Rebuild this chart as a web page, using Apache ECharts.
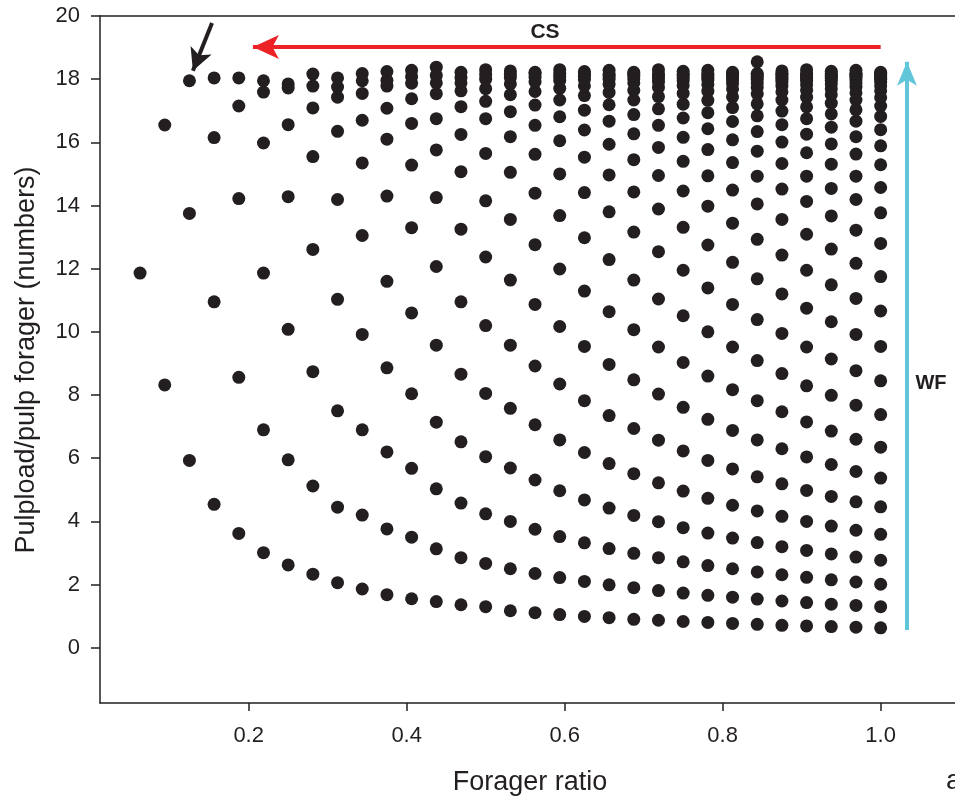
<!DOCTYPE html>
<html>
<head>
<meta charset="utf-8">
<script src="https://cdn.jsdelivr.net/npm/echarts@6/dist/echarts.min.js"></script>
<style>
html,body{margin:0;padding:0;background:#fff;}
#chart{width:955px;height:798px;}
</style>
</head>
<body>
<div id="chart"></div>
<script>
// Forager ratio of each column (x positions)
const foragerRatio = [0.0625,0.09375,0.125,0.15625,0.1875,0.21875,0.25,0.28125,0.3125,0.34375,0.375,0.40625,0.4375,0.46875,0.5,0.53125,0.5625,0.59375,0.625,0.65625,0.6875,0.71875,0.75,0.78125,0.8125,0.84375,0.875,0.90625,0.9375,0.96875,1.0];

// Pulpload per pulp forager, one array per column (bottom to top)
const load02 = [11.86];
const load03 = [8.32,16.55];
const load04 = [5.93,13.75,17.95];
const load05 = [4.54,10.95,16.15,18.04];
const load06 = [3.62,8.56,14.22,17.15,18.04];
const load07 = [3.01,6.90,11.86,15.98,17.59,17.95];
const load08 = [2.62,5.95,10.08,14.28,16.56,17.72,17.85];
const load09 = [2.33,5.12,8.74,12.61,15.55,17.09,17.78,18.16];
const load10 = [2.06,4.45,7.5,11.03,14.19,16.35,17.43,17.75,18.04];
const load11 = [1.86,4.2,6.9,9.92,13.05,15.35,16.7,17.55,17.95,18.18];
const load12 = [1.68,3.76,6.2,8.86,11.6,14.3,16.1,17.08,17.78,17.96,18.24];
const load13 = [1.55,3.5,5.68,8.04,10.6,13.3,15.28,16.6,17.38,17.87,18.08,18.28];
const load14 = [1.46,3.13,5.03,7.14,9.58,12.07,14.25,15.76,16.75,17.54,17.88,18.12,18.38];
const load15 = [1.36,2.85,4.58,6.52,8.66,10.95,13.25,15.07,16.25,17.13,17.63,17.88,18.05,18.22];
const load16 = [1.3,2.67,4.24,6.05,8.05,10.2,12.37,14.15,15.65,16.75,17.3,17.7,18.0,18.15,18.3];
const load17 = [1.17,2.50,4.0,5.69,7.58,9.58,11.64,13.56,15.05,16.18,16.97,17.51,17.85,18.05,18.15,18.26];
const load18 = [1.11,2.35,3.75,5.31,7.06,8.92,10.87,12.76,14.39,15.62,16.54,17.18,17.61,17.91,18.06,18.16,18.22];
const load19 = [1.05,2.22,3.52,4.97,6.58,8.35,10.17,11.99,13.68,15.0,16.05,16.81,17.34,17.71,17.96,18.08,18.16,18.3];
const load20 = [0.99,2.10,3.32,4.68,6.18,7.82,9.54,11.29,12.98,14.41,15.53,16.39,17.02,17.48,17.79,17.99,18.09,18.16,18.24];
const load21 = [0.95,1.99,3.14,4.42,5.83,7.35,8.97,10.64,12.29,13.8,14.97,15.94,16.67,17.19,17.58,17.84,18.0,18.1,18.17,18.28];
const load22 = [0.90,1.90,2.99,4.19,5.51,6.94,8.48,10.07,11.64,13.16,14.43,15.45,16.27,16.88,17.34,17.65,17.88,18.01,18.1,18.17,18.22];
const load23 = [0.87,1.81,2.85,3.99,5.22,6.57,8.03,9.52,11.04,12.54,13.89,14.95,15.84,16.54,17.06,17.45,17.74,17.91,18.02,18.11,18.17,18.3];
const load24 = [0.83,1.73,2.72,3.80,4.96,6.23,7.61,9.03,10.51,11.95,13.31,14.46,15.4,16.16,16.77,17.21,17.55,17.8,17.95,18.03,18.12,18.17,18.25];
const load25 = [0.80,1.66,2.60,3.63,4.73,5.93,7.23,8.6,10.0,11.39,12.75,13.98,14.94,15.77,16.43,16.94,17.33,17.62,17.83,17.97,18.05,18.12,18.18,18.28];
const load26 = [0.77,1.60,2.50,3.47,4.51,5.66,6.88,8.17,9.52,10.87,12.2,13.44,14.49,15.36,16.08,16.66,17.1,17.44,17.69,17.86,17.98,18.05,18.13,18.18,18.22];
const load27 = [0.74,1.54,2.40,3.33,4.33,5.41,6.58,7.82,9.09,10.39,11.68,12.93,14.05,14.93,15.72,16.34,16.84,17.22,17.53,17.74,17.88,17.99,18.06,18.13,18.18,18.55];
const load28 = [0.71,1.48,2.31,3.20,4.16,5.19,6.30,7.47,8.68,9.95,11.2,12.43,13.56,14.52,15.33,16.01,16.56,16.99,17.34,17.6,17.78,17.91,18.0,18.07,18.13,18.18,18.26];
const load29 = [0.69,1.43,2.23,3.08,4.0,4.98,6.04,7.15,8.29,9.52,10.75,11.95,13.09,14.13,14.93,15.67,16.26,16.75,17.12,17.43,17.65,17.82,17.94,18.02,18.08,18.14,18.18,18.3];
const load30 = [0.67,1.38,2.15,2.97,3.85,4.79,5.80,6.86,7.99,9.14,10.32,11.49,12.62,13.67,14.54,15.31,15.95,16.48,16.9,17.24,17.51,17.7,17.85,17.96,18.03,18.09,18.14,18.18,18.25];
const load31 = [0.65,1.34,2.08,2.87,3.72,4.62,5.58,6.60,7.68,8.77,9.92,11.06,12.17,13.22,14.19,14.93,15.63,16.18,16.67,17.03,17.34,17.57,17.75,17.88,17.98,18.05,18.1,18.15,18.18,18.28];
const load32 = [0.63,1.30,2.01,2.77,3.59,4.46,5.37,6.35,7.38,8.45,9.54,10.66,11.75,12.8,13.77,14.57,15.29,15.89,16.4,16.82,17.15,17.42,17.63,17.79,17.91,18.0,18.06,18.11,18.15,18.18,18.22];

const loadColumns = [load02,load03,load04,load05,load06,load07,load08,load09,load10,load11,load12,load13,load14,load15,load16,load17,load18,load19,load20,load21,load22,load23,load24,load25,load26,load27,load28,load29,load30,load31,load32];

// Tick labels
const xTicks = [0.2,0.4,0.6,0.8,1.0];
const yTicks = [0,2,4,6,8,10,12,14,16,18,20];

// Annotation arrows (data coordinates)
const csArrow = [[1.0,19.02],[0.2054,19.02]];
const wfArrow = [[1.0333,0.56],[1.0333,18.55]];
const markerArrow = [[0.1536,19.78],[0.1294,18.27]];

const points = [];
loadColumns.forEach((col, i) => {
  col.forEach(v => points.push([foragerRatio[i], v]));
});

const ink = '#231f20';
const font = '"Liberation Sans", Arial, Helvetica, sans-serif';
const chart = echarts.init(document.getElementById('chart'), null, {renderer:'canvas'});

const xRange = {min: 0.0118, max: 1.0941};

function arrowLine(pts, color, head) {
  return [
    {coord: pts[0], symbol: 'none', lineStyle: {color: color, width: 4, type: 'solid'}},
    {coord: pts[1], symbol: 'arrow', symbolSize: head, itemStyle: {color: color}}
  ];
}

chart.setOption({
  animation: false,
  backgroundColor: '#fff',
  grid: {left: 100, right: 0, top: 16, bottom: 95, containLabel: false},
  xAxis: [{
    type: 'value', min: xRange.min, max: xRange.max, position: 'bottom',
    axisLine: {show: true, onZero: false, lineStyle: {color: ink, width: 1.5}},
    axisTick: {show: true, length: 8, lineStyle: {color: ink, width: 1.5}, customValues: xTicks},
    axisLabel: {show: true, margin: 22, color: ink, fontSize: 22, fontFamily: font,
      customValues: xTicks, formatter: v => Number(v).toFixed(1)},
    splitLine: {show: false}
  }, {
    type: 'value', min: xRange.min, max: xRange.max, position: 'top',
    axisLine: {show: true, onZero: false, lineStyle: {color: ink, width: 1.5}},
    axisTick: {show: false}, axisLabel: {show: false}, splitLine: {show: false}
  }],
  yAxis: {
    type: 'value', min: -1.75, max: 20,
    axisLine: {show: true, onZero: false, lineStyle: {color: ink, width: 1.5}},
    axisTick: {show: true, length: 9, lineStyle: {color: ink, width: 1.5}, customValues: yTicks},
    axisLabel: {show: true, margin: 20, color: ink, fontSize: 22, fontFamily: font,
      customValues: yTicks, formatter: v => String(Math.round(v))},
    splitLine: {show: false}
  },
  series: [{
    type: 'scatter',
    data: points,
    symbol: 'circle',
    symbolSize: 13,
    itemStyle: {color: ink, opacity: 1},
    silent: true,
    z: 3
  }, {
    type: 'line',
    data: [],
    silent: true,
    markLine: {
      silent: true,
      animation: false,
      symbol: ['none', 'arrow'],
      symbolSize: [16, 22],
      label: {show: false},
      emphasis: {disabled: true},
      data: [
        arrowLine(csArrow, '#ec2227', [18, 26]),
        arrowLine(wfArrow, '#62c6da', [15, 24]),
        arrowLine(markerArrow, ink, [17, 22])
      ],
      lineStyle: {type: 'solid', opacity: 1}
    }
  }],
  graphic: [
    {type: 'text', x: 530, y: 783, silent: true,
      style: {text: 'Forager ratio', fill: ink, font: '27px ' + font, align: 'center', verticalAlign: 'middle'}},
    {type: 'text', x: 27, y: 360, rotation: Math.PI / 2, silent: true,
      style: {text: 'Pulpload/pulp forager (numbers)', fill: ink, font: '27px ' + font, align: 'center', verticalAlign: 'middle'}},
    {type: 'text', x: 545, y: 32, silent: true,
      style: {text: 'CS', fill: ink, font: 'bold 21px ' + font, align: 'center', verticalAlign: 'middle'}},
    {type: 'text', x: 931, y: 383, silent: true,
      style: {text: 'WF', fill: ink, font: 'bold 20px ' + font, align: 'center', verticalAlign: 'middle'}},
    {type: 'text', x: 946, y: 781, silent: true,
      style: {text: 'a', fill: ink, font: '28px ' + font, align: 'left', verticalAlign: 'middle'}}
  ]
});
</script>
</body>
</html>
